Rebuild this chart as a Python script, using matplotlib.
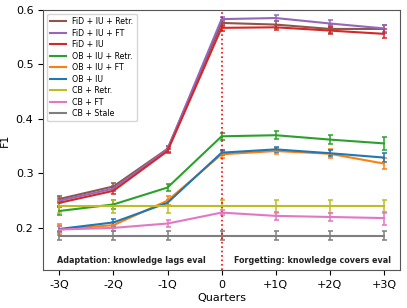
import matplotlib
matplotlib.use("Agg")
import matplotlib.pyplot as plt
from matplotlib.lines import Line2D

quarters = [-3, -2, -1, 0, 1, 2, 3]
xLabels = ["-3Q", "-2Q", "-1Q", "0", "+1Q", "+2Q", "+3Q"]

fid_iu_retr = [0.253, 0.276, 0.345, 0.576, 0.573, 0.565, 0.565]
fid_iu_ft = [0.250, 0.272, 0.344, 0.583, 0.585, 0.575, 0.566]
fid_iu = [0.246, 0.268, 0.341, 0.567, 0.568, 0.562, 0.556]
ob_iu_retr = [0.231, 0.243, 0.274, 0.368, 0.370, 0.362, 0.355]
ob_iu_ft = [0.197, 0.205, 0.250, 0.335, 0.341, 0.336, 0.318]
ob_iu = [0.198, 0.210, 0.246, 0.338, 0.344, 0.337, 0.329]
cb_retr = [0.240, 0.240, 0.240, 0.240, 0.240, 0.240, 0.240]
cb_ft = [0.197, 0.200, 0.208, 0.228, 0.222, 0.220, 0.218]
cb_stale = [0.186, 0.186, 0.186, 0.186, 0.186, 0.186, 0.186]

fid_retr_err = [0.006, 0.006, 0.005, 0.006, 0.006, 0.007, 0.008]
fid_ft_err = [0.005, 0.005, 0.004, 0.004, 0.006, 0.006, 0.006]
fid_err = [0.005, 0.005, 0.004, 0.005, 0.005, 0.006, 0.008]
ob_retr_err = [0.008, 0.008, 0.006, 0.006, 0.007, 0.009, 0.012]
ob_ft_err = [0.010, 0.006, 0.008, 0.006, 0.006, 0.008, 0.010]
ob_err = [0.006, 0.006, 0.005, 0.005, 0.005, 0.006, 0.008]
cb_retr_err = [0.012, 0.012, 0.012, 0.012, 0.012, 0.012, 0.012]
cb_ft_err = [0.006, 0.006, 0.006, 0.004, 0.008, 0.008, 0.012]
cb_stale_err = [0.008, 0.008, 0.008, 0.008, 0.008, 0.008, 0.008]

series = [
	("FiD + IU + Retr.", fid_iu_retr, fid_retr_err, "tab:brown"),
	("FiD + IU + FT", fid_iu_ft, fid_ft_err, "tab:purple"),
	("FiD + IU", fid_iu, fid_err, "tab:red"),
	("OB + IU + Retr.", ob_iu_retr, ob_retr_err, "tab:green"),
	("OB + IU + FT", ob_iu_ft, ob_ft_err, "tab:orange"),
	("OB + IU", ob_iu, ob_err, "tab:blue"),
	("CB + Retr.", cb_retr, cb_retr_err, "tab:olive"),
	("CB + FT", cb_ft, cb_ft_err, "tab:pink"),
	("CB + Stale", cb_stale, cb_stale_err, "tab:gray"),
]

fig = plt.figure(figsize=(4.07, 3.08), dpi=100)
ax = fig.add_axes([0.106, 0.123, 0.877, 0.845])

handles = []
for label, vals, err, color in series:
	ax.errorbar(quarters, vals, yerr=err, color=color,
		linewidth=1.5, capsize=1.8, elinewidth=1.1, capthick=1.1)
	handles.append(Line2D([], [], color=color, linewidth=1.5, label=label))

ax.axvline(0, color="red", linestyle=":", linewidth=1.2)

ax.text(-1.66, 0.141, "Adaptation: knowledge lags eval", ha="center", va="center",
	fontsize=5.8, fontweight="bold", color="#222222")
ax.text(1.68, 0.141, "Forgetting: knowledge covers eval", ha="center", va="center",
	fontsize=5.8, fontweight="bold", color="#222222")

ax.set_xticks(quarters)
ax.set_xticklabels(xLabels)
ax.set_xlim(-3.3, 3.3)
ax.set_ylim(0.1225, 0.6)
ax.set_yticks([0.2, 0.3, 0.4, 0.5, 0.6])
ax.set_xlabel("Quarters", fontsize=8, labelpad=2)
ax.set_ylabel("F1", fontsize=8)
ax.tick_params(labelsize=8)
for s in ax.spines.values():
	s.set_color("#555555")

ax.legend(handles=handles, loc="upper left", fontsize=5.7, handlelength=2,
	labelspacing=0.32, borderpad=0.4, frameon=True)

plt.savefig("out.png", dpi=100)
